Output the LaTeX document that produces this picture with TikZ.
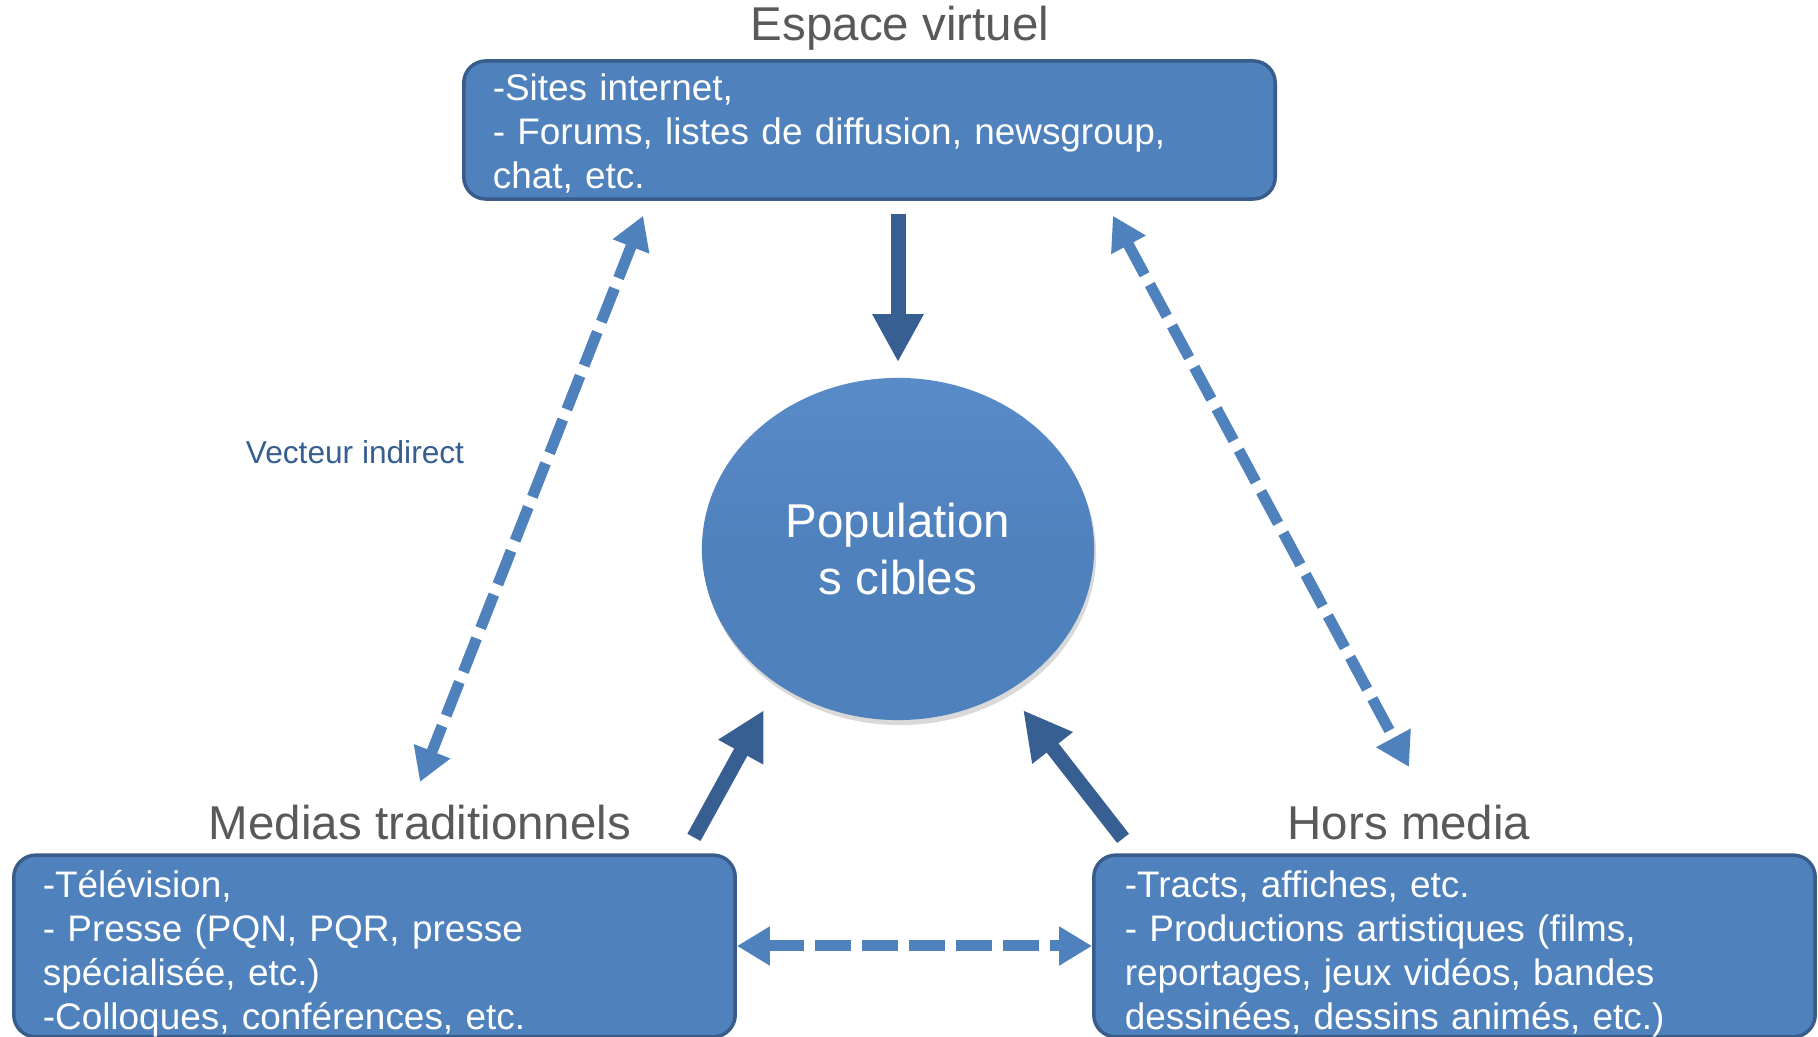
\documentclass[tikz,border=0pt]{standalone}
\usepackage{fontspec}
\setmainfont{Liberation Sans}
\usetikzlibrary{arrows.meta,shapes.geometric,shadows}
\definecolor{boxblue}{HTML}{4F81BD}
\definecolor{boxedge}{HTML}{385D8A}
\definecolor{arrowdark}{HTML}{375F92}
\definecolor{titlegrey}{HTML}{595959}
\definecolor{notedark}{HTML}{365F91}
\definecolor{toplight}{HTML}{5A8BC9}

\begin{document}
\begin{tikzpicture}[
		x=0.01cm, y=0.01cm,
		every node/.style={inner sep=0pt, font=\fontsize{10.5}{12.5}\selectfont},
		media_box/.style={rectangle, rounded corners=0.22cm, draw=boxedge, line width=0.035cm, fill=boxblue, text=white, align=left, inner xsep=0.29cm},
		title/.style={text=titlegrey, font=\fontsize{13.5}{16.2}\selectfont},
		push/.style={arrowdark, line width=0.15cm, -{Triangle[width=0.48cm, length=0.48cm]}},
		link/.style={boxblue, line width=0.11cm, dash pattern=on 0.36cm off 0.11cm, {Triangle[width=0.37cm, length=0.33cm]}-{Triangle[width=0.37cm, length=0.33cm]}}
	]
  \useasboundingbox (0, 0) rectangle (1818, 1037);
  \node (box_top) [media_box, text width=7.53cm, minimum height=1.38cm] at (869.5, 907) {\rule{0pt}{9.5pt}-Sites internet,\\- Forums, listes de diffusion, newsgroup,\\chat, etc.};
  \node (box_left) [media_box, text width=6.63cm, minimum height=1.76cm] at (374.5, 91) {\rule{0pt}{12pt}-Télévision,\\- Presse (PQN, PQR, presse\\spécialisée, etc.)\\-Colloques, conférences, etc.};
  \node (box_right) [media_box, text width=6.59cm, inner xsep=0.31cm, minimum height=1.76cm] at (1454.5, 91) {\rule{0pt}{12pt}-Tracts, affiches, etc.\\- Productions artistiques (films,\\reportages, jeux vidéos, bandes\\dessinées, dessins animés, etc.)};
  \node (title_top) [title] at (900, 1009) {Espace virtuel};
  \node (title_left) [title] at (420, 214) {Medias traditionnels};
  \node (title_right) [title] at (1409, 214) {Hors media};
  \node (target) [ellipse, minimum width=3.92cm, minimum height=3.42cm, top color=toplight, bottom color=boxblue, middle color=boxblue, drop shadow={opacity=0.3, shadow xshift=0.02cm, shadow yshift=-0.05cm}, text=white, align=center, font=\fontsize{13.5}{16.2}\selectfont] at (898, 488) {Population\\s cibles};
  \node (note) [text=notedark, font=\fontsize{9}{10.8}\selectfont] at (355, 585) {Vecteur indirect};
  \draw (target.north |- box_top.south) edge [push, shorten <=0.13cm, shorten >=0.15cm] (target.north);
  \draw ([xshift=-0.43cm, yshift=0.16cm]box_left.north east) edge [push] ([xshift=-1.34cm, yshift=-1.61cm]target.center);
  \draw ([xshift=0.31cm, yshift=0.15cm]box_right.north west) edge [push] ([xshift=1.25cm, yshift=-1.61cm]target.center);
  \draw ([xshift=1.81cm, yshift=-0.15cm]box_top.south west) edge [link] ([yshift=0.41cm]title_left.center);
  \draw ([xshift=-1.64cm, yshift=-0.15cm]box_top.south east) edge [link] ([yshift=0.56cm]title_right.center);
  \draw (box_left.east) edge [link] (box_right.west);
\end{tikzpicture}
\end{document}
